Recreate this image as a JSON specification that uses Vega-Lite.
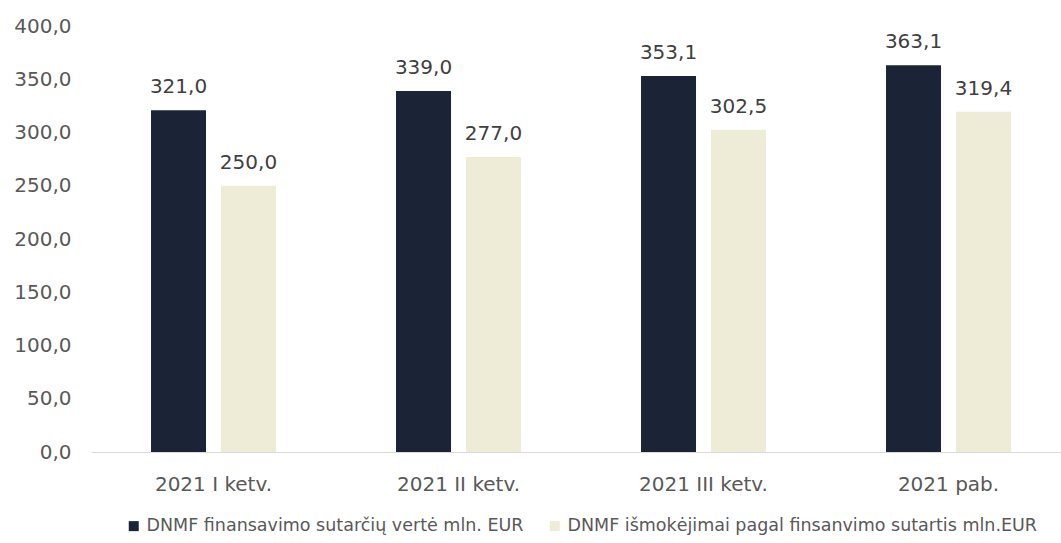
{
  "$schema": "https://vega.github.io/schema/vega-lite/v6.json",
  "width": 980,
  "height": 426,
  "padding": {"left": 13, "top": 16, "right": 0, "bottom": 5},
  "background": "white",
  "config": {
    "locale": {"number": {"decimal": ",", "thousands": " ", "grouping": [3], "currency": ["", " €"]}},
    "view": {"stroke": null},
    "font": "DejaVu Sans",
    "legend": {"layout": {"bottom": {"anchor": "middle"}}}
  },
  "data": {
    "values": [
      {"ketv": "2021 I ketv.", "serija": "DNMF finansavimo sutarčių vertė mln. EUR", "reiksme": 321.0},
      {"ketv": "2021 I ketv.", "serija": "DNMF išmokėjimai pagal finsanvimo sutartis mln.EUR", "reiksme": 250.0},
      {"ketv": "2021 II ketv.", "serija": "DNMF finansavimo sutarčių vertė mln. EUR", "reiksme": 339.0},
      {"ketv": "2021 II ketv.", "serija": "DNMF išmokėjimai pagal finsanvimo sutartis mln.EUR", "reiksme": 277.0},
      {"ketv": "2021 III ketv.", "serija": "DNMF finansavimo sutarčių vertė mln. EUR", "reiksme": 353.1},
      {"ketv": "2021 III ketv.", "serija": "DNMF išmokėjimai pagal finsanvimo sutartis mln.EUR", "reiksme": 302.5},
      {"ketv": "2021 pab.", "serija": "DNMF finansavimo sutarčių vertė mln. EUR", "reiksme": 363.1},
      {"ketv": "2021 pab.", "serija": "DNMF išmokėjimai pagal finsanvimo sutartis mln.EUR", "reiksme": 319.4}
    ]
  },
  "encoding": {
    "x": {
      "field": "ketv", "type": "nominal", "sort": null,
      "scale": {"paddingInner": 0.49, "paddingOuter": 0.245},
      "axis": {"title": null, "labelAngle": 0, "labelFontSize": 20, "labelColor": "#595959", "labelPadding": 22, "ticks": false, "domainColor": "#d9d9d9", "domainWidth": 1, "grid": false}
    },
    "xOffset": {
      "field": "serija", "type": "nominal", "sort": null,
      "scale": {"paddingInner": 0.214, "paddingOuter": 0}
    },
    "y": {
      "field": "reiksme", "type": "quantitative",
      "scale": {"domain": [0, 400]},
      "axis": {"title": null, "values": [0, 50, 100, 150, 200, 250, 300, 350, 400], "format": ".1f", "labelFontSize": 20, "labelColor": "#595959", "labelPadding": 20, "ticks": false, "domain": false, "grid": false}
    }
  },
  "layer": [
    {
      "mark": {"type": "bar"},
      "encoding": {
        "color": {
          "field": "serija", "type": "nominal", "sort": null,
          "scale": {"range": ["#1b2437", "#eeebd6"]},
          "legend": {"title": null, "orient": "bottom", "direction": "horizontal", "labelFontSize": 17.5, "labelColor": "#595959", "symbolType": "square", "symbolSize": 100, "symbolStrokeWidth": 0, "columnPadding": 22, "labelLimit": 700, "offset": 23}
        }
      }
    },
    {
      "mark": {"type": "text", "baseline": "alphabetic", "dy": -17, "fontSize": 20, "color": "#404040"},
      "encoding": {
        "text": {"field": "reiksme", "type": "quantitative", "format": ".1f"}
      }
    }
  ]
}
